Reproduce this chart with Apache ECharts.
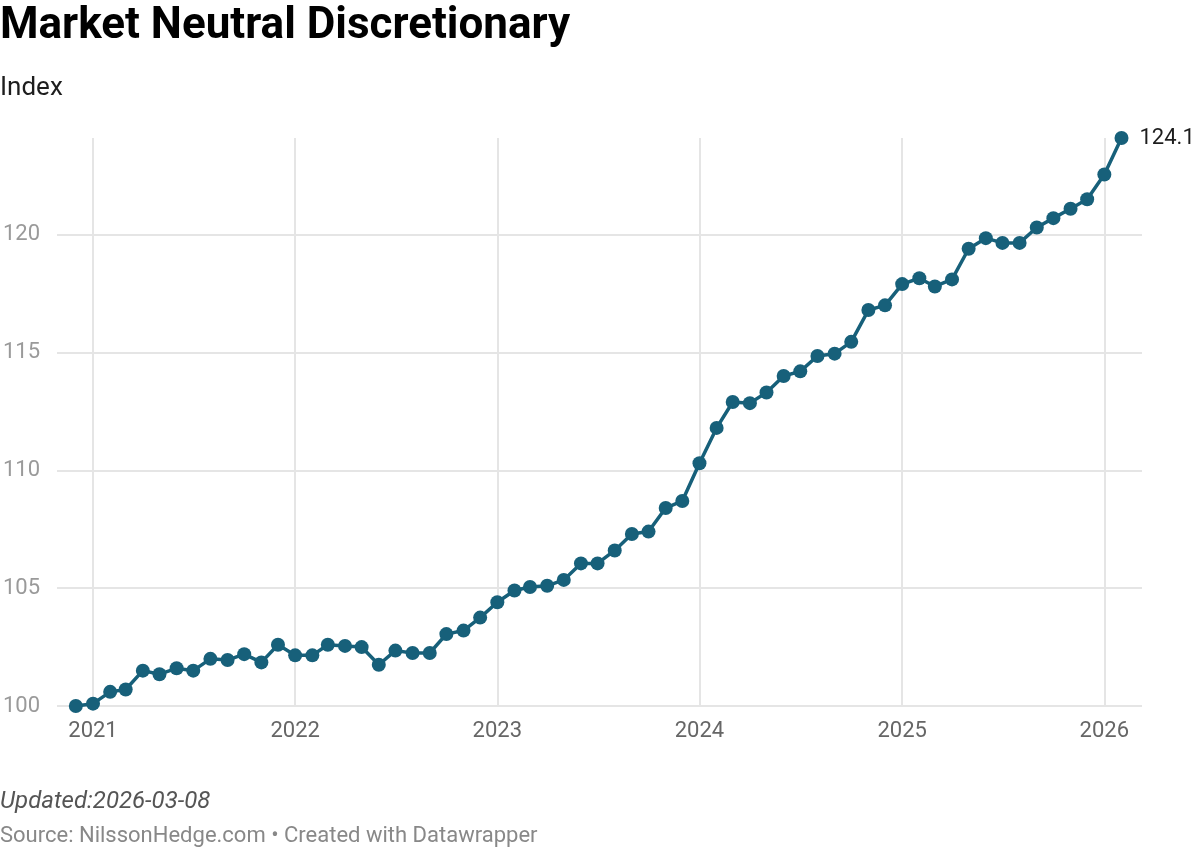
<!DOCTYPE html>
<html>
<head>
<meta charset="utf-8">
<script src="https://cdn.jsdelivr.net/npm/echarts@6/dist/echarts.min.js"></script>
<style>
  html, body { margin: 0; padding: 0; background: #fff; }
  #chart { width: 1200px; height: 850px; }
</style>
</head>
<body>
<div id="chart"></div>
<script>
// monthly index, first value Dec 2020
const startMonth = [2020, 12]
const values = [
  100.0,
  100.1, 100.6, 100.7, 101.5, 101.35, 101.6, 101.5, 102.0, 101.95, 102.2, 101.85, 102.6,
  102.15, 102.15, 102.6, 102.55, 102.5, 101.75, 102.35, 102.25, 102.25, 103.05, 103.2, 103.75,
  104.4, 104.9, 105.05, 105.1, 105.35, 106.05, 106.05, 106.6, 107.3, 107.4, 108.4, 108.7,
  110.3, 111.8, 112.9, 112.85, 113.3, 114.0, 114.2, 114.85, 114.95, 115.45, 116.8, 117.0,
  117.9, 118.15, 117.8, 118.1, 119.4, 119.85, 119.65, 119.65, 120.3, 120.7, 121.1, 121.5,
  122.55, 124.1
]
const yTicks = [100, 105, 110, 115, 120]

const months = values.map((v, i) => {
  const m0 = startMonth[1] - 1 + i
  const y = startMonth[0] + Math.floor(m0 / 12)
  const m = (m0 % 12) + 1
  return `${y}-${String(m).padStart(2, '0')}-01`
})

const lineColor = '#17607a'
const font = 'Roboto'

const chart = echarts.init(document.getElementById('chart'))

const options = {
  backgroundColor: '#fff',
  animation: false,
  textStyle: { fontFamily: font },
  title: [
    {
      text: 'Market Neutral Discretionary',
      left: 0,
      top: 5,
      padding: 0,
      textStyle: { fontFamily: font, fontSize: 44, fontWeight: 'bold', color: '#000' }
    },
    {
      text: 'Index',
      left: 0,
      top: 75,
      padding: 0,
      textStyle: { fontFamily: font, fontSize: 26, fontWeight: 'normal', color: '#1d1d1d' }
    },
    {
      text: 'Updated:2026-03-08',
      left: 0,
      top: 790,
      padding: 0,
      textStyle: { fontFamily: font, fontSize: 24, fontStyle: 'italic', fontWeight: 'normal', color: '#555' }
    },
    {
      text: 'Source: NilssonHedge.com • Created with Datawrapper',
      left: 0,
      top: 825,
      padding: 0,
      textStyle: { fontFamily: font, fontSize: 22, fontWeight: 'normal', color: '#888' }
    }
  ],
  grid: {
    left: 54,
    right: 58,
    top: 138,
    bottom: 144
  },
  xAxis: {
    type: 'time',
    min: '2020-10-28',
    max: '2026-03-10',
    axisLine: { show: false },
    axisTick: { show: false },
    splitLine: {
      show: true,
      showMinLine: false,
      showMaxLine: false,
      lineStyle: { color: '#e5e5e5', width: 2 }
    },
    axisLabel: {
      formatter: '{yyyy}',
      color: '#666',
      fontSize: 22,
      fontFamily: font,
      margin: 14,
      showMinLabel: false,
      showMaxLabel: false
    }
  },
  yAxis: {
    type: 'value',
    min: 100,
    max: 124.1,
    interval: 5,
    axisLine: { show: false },
    axisTick: { show: false },
    splitLine: {
      showMaxLine: false,
      lineStyle: { color: '#e5e5e5', width: 2 }
    },
    axisLabel: {
      color: '#9a9a9a',
      fontSize: 22,
      fontFamily: font,
      align: 'left',
      margin: 54,
      showMaxLabel: false,
      formatter: (v) => (yTicks.includes(v) ? String(v) : '')
    }
  },
  series: [
    {
      type: 'line',
      data: months.map((d, i) => [d, values[i]]),
      symbol: 'circle',
      symbolSize: 14,
      lineStyle: { color: lineColor, width: 3.5 },
      itemStyle: { color: lineColor },
      endLabel: {
        show: true,
        distance: 18,
        color: '#1d1d1d',
        fontSize: 22,
        fontFamily: font,
        formatter: (p) => p.value[1].toFixed(1)
      }
    }
  ]
}

chart.setOption(options)
</script>
</body>
</html>
